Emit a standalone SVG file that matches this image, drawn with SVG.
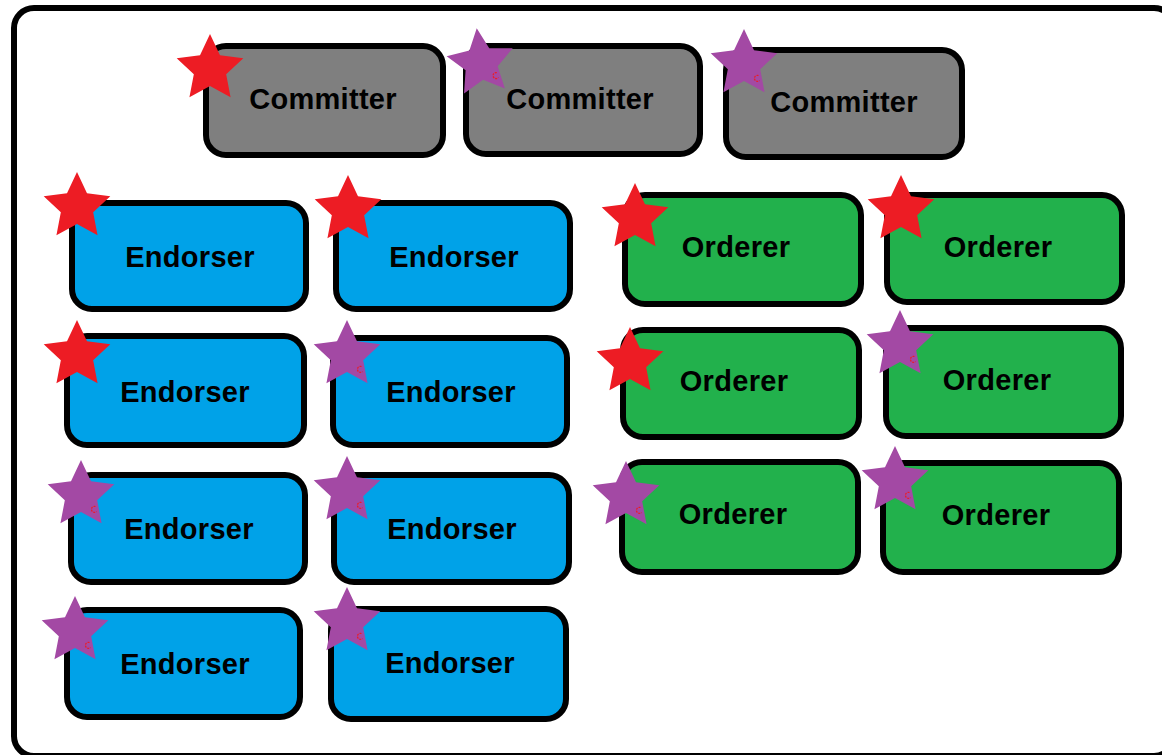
<svg xmlns="http://www.w3.org/2000/svg" width="1162" height="755" viewBox="0 0 1162 755">
  <style>
    .box { stroke: #000; stroke-width: 6; }
    .committer { fill: #7F7F7F; }
    .endorser { fill: #00A2E8; }
    .orderer { fill: #22B14C; }
    .label { font-family: "Liberation Sans", Arial, sans-serif; font-weight: bold; font-size: 29px; letter-spacing: 0.3px; fill: #000; text-anchor: middle; }
    .red { fill: #ED1C24; }
    .purple { fill: #A349A4; }
    .mark { fill: none; stroke: #ED1C24; stroke-width: 1.2; stroke-dasharray: 2 1; }
  </style>
  <defs>
    <path id="star" d="M0,-35 L9.99,-13.75 L33.29,-10.82 L16.17,5.25 L20.57,28.32 L0,17 L-20.57,28.32 L-16.17,5.25 L-33.29,-10.82 L-9.99,-13.75 Z"/>
    <g id="redStar"><use href="#star" class="red"/></g>
    <g id="purpleStar"><use href="#star" class="purple"/><path class="mark" d="M14.5,11.5 a3,3 0 1 0 1,5"/></g>
  </defs>

  <rect width="1162" height="755" fill="#fff"/>
  <!-- outer frame -->
  <rect x="14" y="8" width="1160" height="748" rx="20" fill="none" stroke="#000" stroke-width="6"/>

  <g id="connectors"/>

  <!-- committers -->
  <g id="committer-1"><rect class="box committer" x="206" y="46" width="237" height="109" rx="20"/><text class="label" x="323" y="109">Committer</text><use href="#redStar" transform="translate(210,69)"/></g>
  <g id="committer-2"><rect class="box committer" x="466" y="46" width="234" height="108" rx="20"/><text class="label" x="580" y="109">Committer</text><use href="#purpleStar" transform="translate(481,63) rotate(-7)"/></g>
  <g id="committer-3"><rect class="box committer" x="726" y="50" width="236" height="107" rx="20"/><text class="label" x="844" y="112">Committer</text><use href="#purpleStar" transform="translate(744,64)"/></g>

  <!-- endorsers -->
  <g id="endorser-1"><rect class="box endorser" x="72" y="203" width="234" height="106" rx="20"/><text class="label" x="190" y="267">Endorser</text><use href="#redStar" transform="translate(77,207)"/></g>
  <g id="endorser-2"><rect class="box endorser" x="336" y="203" width="234" height="106" rx="20"/><text class="label" x="454" y="267">Endorser</text><use href="#redStar" transform="translate(348,210)"/></g>
  <g id="endorser-3"><rect class="box endorser" x="67" y="336" width="237" height="109" rx="20"/><text class="label" x="185" y="402">Endorser</text><use href="#redStar" transform="translate(77,355)"/></g>
  <g id="endorser-4"><rect class="box endorser" x="333" y="338" width="234" height="107" rx="20"/><text class="label" x="451" y="402">Endorser</text><use href="#purpleStar" transform="translate(347,355)"/></g>
  <g id="endorser-5"><rect class="box endorser" x="71" y="475" width="234" height="107" rx="20"/><text class="label" x="189" y="539">Endorser</text><use href="#purpleStar" transform="translate(81,495)"/></g>
  <g id="endorser-6"><rect class="box endorser" x="334" y="475" width="235" height="107" rx="20"/><text class="label" x="452" y="539">Endorser</text><use href="#purpleStar" transform="translate(347,491)"/></g>
  <g id="endorser-7"><rect class="box endorser" x="67" y="610" width="233" height="107" rx="20"/><text class="label" x="185" y="674">Endorser</text><use href="#purpleStar" transform="translate(75,631)"/></g>
  <g id="endorser-8"><rect class="box endorser" x="331" y="609" width="235" height="110" rx="20"/><text class="label" x="450" y="673">Endorser</text><use href="#purpleStar" transform="translate(347,622)"/></g>

  <!-- orderers -->
  <g id="orderer-1"><rect class="box orderer" x="625" y="195" width="236" height="109" rx="20"/><text class="label" x="736" y="257">Orderer</text><use href="#redStar" transform="translate(635,218)"/></g>
  <g id="orderer-2"><rect class="box orderer" x="887" y="195" width="235" height="107" rx="20"/><text class="label" x="998" y="257">Orderer</text><use href="#redStar" transform="translate(901,210)"/></g>
  <g id="orderer-3"><rect class="box orderer" x="623" y="330" width="236" height="107" rx="20"/><text class="label" x="734" y="391">Orderer</text><use href="#redStar" transform="translate(630,362)"/></g>
  <g id="orderer-4"><rect class="box orderer" x="886" y="328" width="235" height="108" rx="20"/><text class="label" x="997" y="390">Orderer</text><use href="#purpleStar" transform="translate(900,345)"/></g>
  <g id="orderer-5"><rect class="box orderer" x="622" y="462" width="236" height="110" rx="20"/><text class="label" x="733" y="524">Orderer</text><use href="#purpleStar" transform="translate(626,496)"/></g>
  <g id="orderer-6"><rect class="box orderer" x="883" y="463" width="236" height="109" rx="20"/><text class="label" x="996" y="525">Orderer</text><use href="#purpleStar" transform="translate(895,481)"/></g>
</svg>
